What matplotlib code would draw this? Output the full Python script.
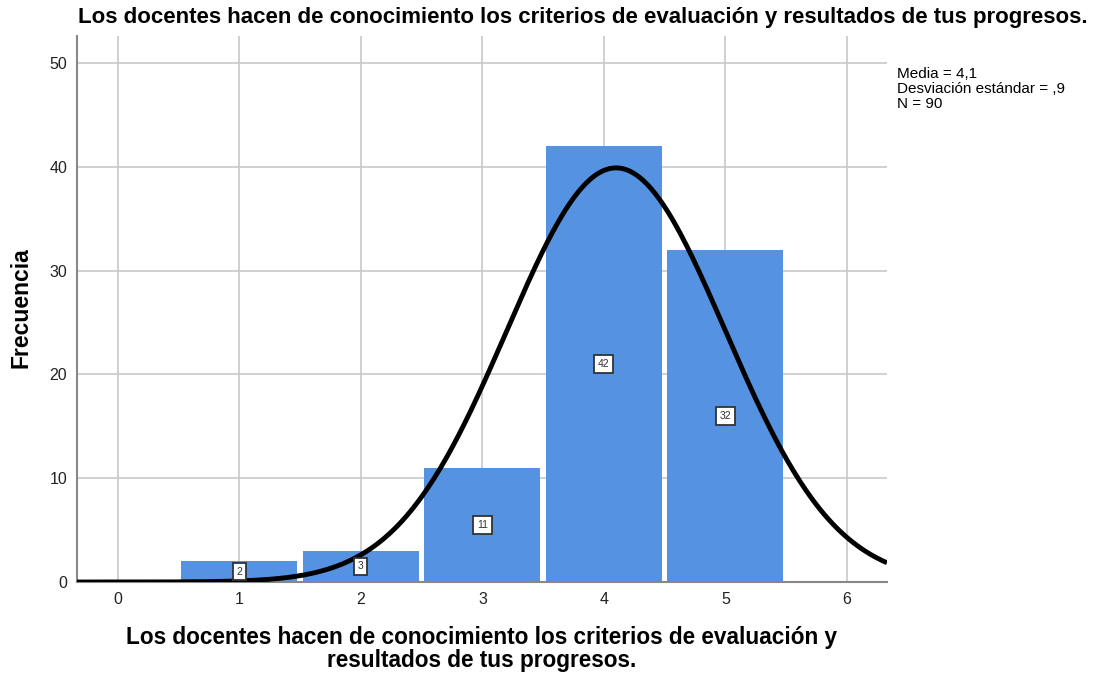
import numpy as np
import matplotlib
matplotlib.use("Agg")
import matplotlib.pyplot as plt

plt.rcParams['font.family'] = ['Liberation Sans', 'DejaVu Sans']

categories = [1, 2, 3, 4, 5]
counts = [2, 3, 11, 42, 32]
mean_val = 4.1
sd_val = 0.9
n_val = 90
xticks = [0, 1, 2, 3, 4, 5, 6]
yticks = [0, 10, 20, 30, 40, 50]
title = "Los docentes hacen de conocimiento los criterios de evaluación y resultados de tus progresos."
xlabel = "Los docentes hacen de conocimiento los criterios de evaluación y\nresultados de tus progresos."
ylabel = "Frecuencia"
stats_text = "Media = 4,1\nDesviación estándar = ,9\nN = 90"

fig = plt.figure(figsize=(11.09, 6.79), dpi=100)
ax = fig.add_axes([77/1109, 1-582/679, (887-77)/1109, (582-36)/679])

ax.set_xlim(-0.337, 6.33)
ax.set_ylim(0, 52.6)

ax.grid(True, color='#c8c8c8', linewidth=1.2, zorder=0)
ax.set_axisbelow(True)
ax.set_xticks(xticks)
ax.set_yticks(yticks)
ax.tick_params(length=0, labelsize=11.5, colors='#222222', pad=7)

ax.bar(categories, counts, width=0.955, color='#5592E2', edgecolor='none', zorder=2)

for c, v in zip(categories, counts):
    ax.text(c, v/2, str(v), ha='center', va='center', fontsize=7.5, color='#333333', zorder=5,
            bbox=dict(boxstyle='square,pad=0.35', facecolor='white', edgecolor='#333333', linewidth=1.3))

xs = np.linspace(-0.337, 6.33, 400)
ys = n_val * 1.0 / (sd_val*np.sqrt(2*np.pi)) * np.exp(-0.5*((xs-mean_val)/sd_val)**2)
ax.plot(xs, ys, color='black', linewidth=3.5, zorder=4, solid_capstyle='butt')

for s in ['top', 'right']:
    ax.spines[s].set_visible(False)
for s in ['left', 'bottom']:
    ax.spines[s].set_color('#888888')
    ax.spines[s].set_linewidth(1.5)

fig.text(583/1109, 1-17/679, title, ha='center', va='center', fontsize=16, fontweight='bold')
fig.text(482/1109, 1-649/679, xlabel, ha='center', va='center', fontsize=16.3, fontweight='bold', linespacing=1.0)
fig.text(21/1109, 1-308/679, ylabel, ha='center', va='center', fontsize=16.5, fontweight='bold', rotation=90)
fig.text(897/1109, 1-67/679, stats_text, ha='left', va='top', fontsize=11, linespacing=1.08)

fig.savefig('out.png', dpi=100)
